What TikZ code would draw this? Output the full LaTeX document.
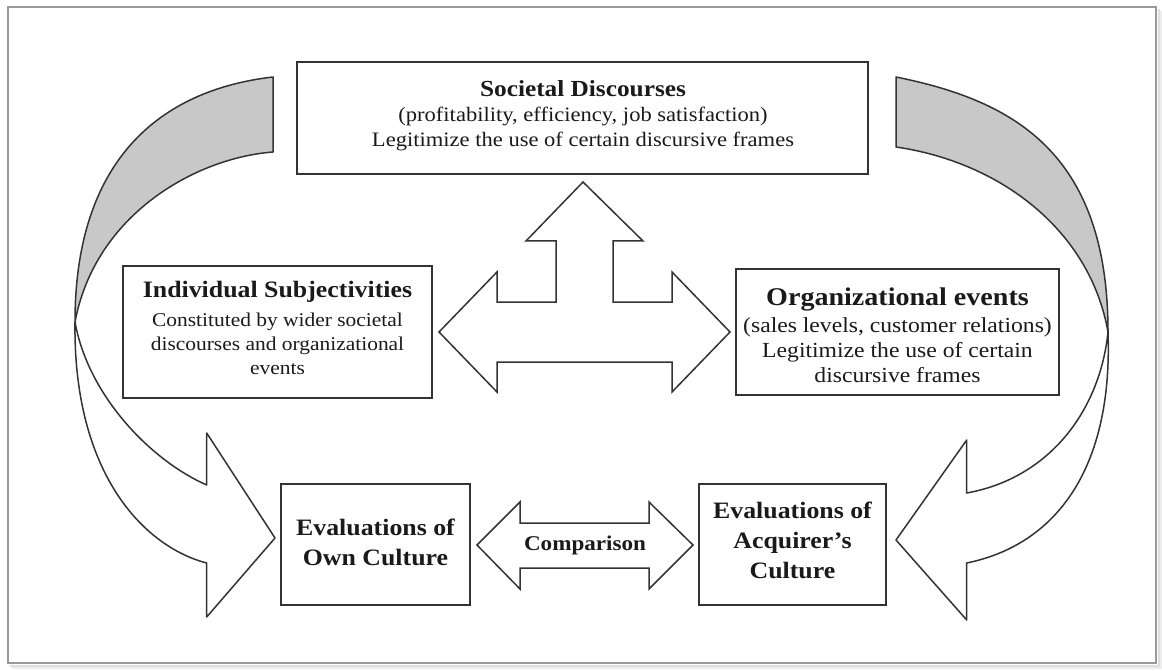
\documentclass[tikz,border=0pt]{standalone}
\usepackage{fontspec}
\setmainfont{Liberation Serif}[FakeStretch=1.1]
\definecolor{ln}{HTML}{333333}
\definecolor{shade}{HTML}{C8C8C8}
\definecolor{tx}{HTML}{1A1A1A}
\begin{document}
\begin{tikzpicture}[x=1pt,y=-1pt,
  box/.style={draw=ln, line width=1.8pt, fill=white, inner sep=0pt},
  blockarrow/.style={draw=ln, line width=1.5pt, line join=miter, fill=white},
  curvearrow/.style={draw=ln, line width=1.5pt, line join=round},
  txt/.style={align=center, text=tx, inner sep=0pt},
  frame/.style={draw=black!40, line width=1.2pt}]
\useasboundingbox (0,0) rectangle (1162,671);
\fill[white] (0,0) rectangle (1162,671);
% outer frame with soft shadow
\draw[black!7, line width=2.5pt] (12,668) -- (1160.5,668) -- (1160.5,11);
\draw[black!13, line width=2pt] (10,665.5) -- (1158.5,665.5) -- (1158.5,9);
\draw[frame] (8,7) rectangle (1156,663);

% boxes
\node[box, minimum width=571pt, minimum height=112pt] (soc) at (582.5,118) {};
\node[box, minimum width=309pt, minimum height=132pt] (ind) at (277.5,332) {};
\node[box, minimum width=323pt, minimum height=126pt] (org) at (897.5,332) {};
\node[box, minimum width=189pt, minimum height=121pt] (own) at (375.5,544.5) {};
\node[box, minimum width=187pt, minimum height=121pt] (acq) at (792.5,544.5) {};

% texts
\node[txt, font=\fontsize{20.5}{25}\selectfont] (soct) at (583,116)
  {{\bfseries\fontsize{23}{28}\selectfont Societal Discourses}\\
   (profitability, efficiency, job satisfaction)\\
   Legitimize the use of certain discursive frames};
\node[txt, font=\fontsize{19.5}{24}\selectfont] (indt) at (277.5,328)
  {{\bfseries\fontsize{23.5}{28}\selectfont Individual Subjectivities}\\[5pt]
   Constituted by wider societal\\
   discourses and organizational\\
   events};
\node[txt, font=\fontsize{21.5}{25}\selectfont] (orgt) at (897.5,335)
  {{\bfseries\fontsize{25.5}{30}\selectfont Organizational events}\\[2pt]
   (sales levels, customer relations)\\
   Legitimize the use of certain\\
   discursive frames};
\node[txt, font=\bfseries\fontsize{23.5}{30}\selectfont] (ownt) at (375.5,542)
  {Evaluations of\\ Own Culture};
\node[txt, font=\bfseries\fontsize{23.5}{30}\selectfont] (acqt) at (792.5,540)
  {Evaluations of\\ Acquirer’s\\ Culture};

% T-shaped three-way arrow
\draw[blockarrow] (583,182) -- (643,241) -- (613,241) -- (613,302) -- (672,302)
  -- (672,272) -- (730,332) -- (672,392) -- (672,362) -- (497,362) -- (497,392)
  -- (439,332) -- (497,272) -- (497,302) -- (556,302) -- (556,241) -- (526,241) -- cycle;

% comparison double arrow
\draw[blockarrow] (477,545) -- (520,502) -- (520,523) -- (649,523) -- (649,502)
  -- (693,545) -- (649,589) -- (649,568) -- (520,568) -- (520,589) -- cycle;
\node[txt, font=\bfseries\fontsize{21}{25}\selectfont] (cmp) at (585,545) {Comparison};

% left curved arrow (grey back face, white front face)
\coordinate (lx) at (75,322);
\filldraw[curvearrow, fill=shade]
  (273,77) .. controls (160,90) and (75,160) .. (lx)
  .. controls (95,215) and (195,158) .. (273,152) -- cycle;
\filldraw[curvearrow, fill=white]
  (lx) .. controls (73,475) and (145,547) .. (206.7,563)
  -- (206.7,617) -- (275,538) -- (206.7,433) -- (206.7,485)
  .. controls (150,460) and (88,395) .. (lx) -- cycle;

% right curved arrow
\coordinate (rx) at (1108,332);
\filldraw[curvearrow, fill=shade]
  (896,77) .. controls (1010,100) and (1108,150) .. (rx)
  .. controls (1090,230) and (1000,162) .. (896,147) -- cycle;
\filldraw[curvearrow, fill=white]
  (rx) .. controls (1113,470) and (1055,545) .. (966.7,563)
  -- (966.7,620) -- (896,540) -- (966.7,440) -- (966.7,493)
  .. controls (1050,478) and (1100,410) .. (rx) -- cycle;
\end{tikzpicture}
\end{document}
